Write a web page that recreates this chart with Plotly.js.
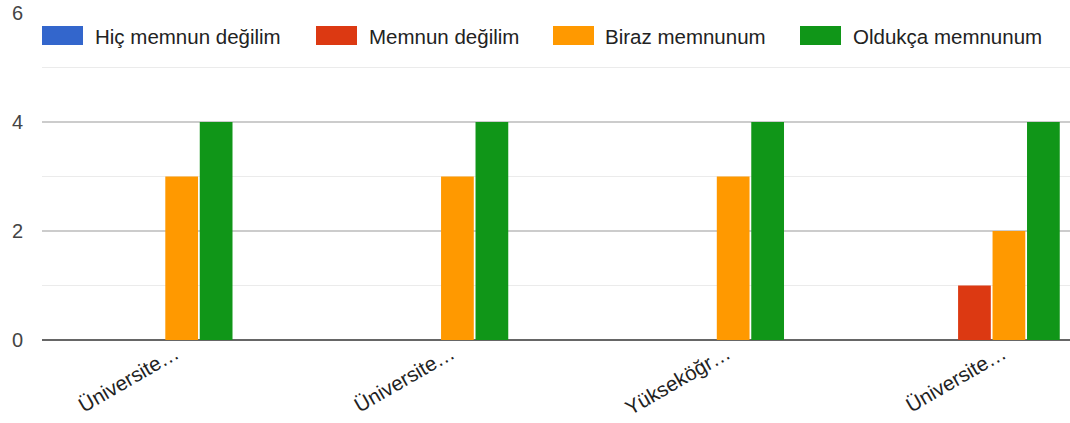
<!DOCTYPE html>
<html>
<head>
<meta charset="utf-8">
<script src="https://cdn.plot.ly/plotly-3.0.1.min.js"></script>
<style>
  html, body { margin: 0; padding: 0; background: #fff; }
  #chart { width: 1070px; height: 423px; }
</style>
</head>
<body>
<div id="chart"></div>
<script>
// ---- Data ----
const categories = ["Üniversite…", "Üniversite…", "Yükseköğr…", "Üniversite…"];
const seriesNames = ["Hiç memnun değilim", "Memnun değilim", "Biraz memnunum", "Oldukça memnunum"];
const hicMemnunDegilim = [0, 0, 0, 0];
const memnunDegilim = [0, 0, 0, 1];
const birazMemnunum = [3, 3, 3, 2];
const oldukcaMemnunum = [4, 4, 4, 4];
const yTickVals = [0, 2, 4, 6];
const yTickText = ["0", "2", "4", "6"];

// ---- Styles ----
const colors = ["#3366cc", "#dc3912", "#ff9900", "#109618"];
const seriesValues = [hicMemnunDegilim, memnunDegilim, birazMemnunum, oldukcaMemnunum];
const xIdx = categories.map((c, i) => i);
const FONT = '"Liberation Sans", Arial, sans-serif';

const W = 1070, H = 423;
const L = 42, R = 0, T = 13, B = 83;
const pw = W - L - R, ph = H - T - B;

const traces = seriesNames.map((name, i) => ({
  type: 'bar',
  name: name,
  x: xIdx,
  y: seriesValues[i],
  marker: { color: colors[i], line: { width: 0 } },
  showlegend: false,
  hoverinfo: 'x+y+name'
}));

// custom legend (large swatches like the original)
const swatchX = [42, 316, 553, 800];
const swatchW = 41;
const textX = [93, 367, 603, 851];
const swTop = 26, swBot = 45, txtY = 36;
const px2x = px => (px - L) / pw;
const px2y = py => (H - B - py) / ph;

const shapes = seriesNames.map((n, i) => ({
  type: 'rect', xref: 'paper', yref: 'paper',
  x0: px2x(swatchX[i]), x1: px2x(swatchX[i] + swatchW),
  y0: px2y(swBot), y1: px2y(swTop),
  fillcolor: colors[i], line: { width: 0 }, layer: 'above'
}));
const annotations = seriesNames.map((n, i) => ({
  xref: 'paper', yref: 'paper',
  x: px2x(textX[i]), y: px2y(txtY),
  xanchor: 'left', yanchor: 'middle',
  text: n, showarrow: false,
  font: { family: FONT, size: 20.5, color: '#222' }
}));

const layout = {
  width: W, height: H,
  margin: { l: L, r: R, t: T, b: B, pad: 0 },
  paper_bgcolor: '#fff', plot_bgcolor: '#fff',
  font: { family: FONT, size: 20, color: '#444' },
  barmode: 'group',
  bargap: 0.5,
  bargroupgap: 0.05,
  showlegend: false,
  xaxis: {
    range: [-0.444, 3.284],
    tickvals: xIdx,
    ticktext: categories,
    tickangle: -30,
    showgrid: false,
    zeroline: false,
    showline: false,
    ticks: '',
    ticklabelshift: 11,
    ticklabelstandoff: -3,
    tickfont: { family: FONT, size: 20.5, color: '#222' },
    fixedrange: true
  },
  yaxis: {
    range: [0, 6],
    tickvals: yTickVals,
    ticktext: yTickText,
    showgrid: true,
    gridcolor: '#cccccc',
    gridwidth: 1.5,
    minor: { dtick: 1, showgrid: true, gridcolor: '#ebebeb', gridwidth: 1.5 },
    zeroline: true,
    zerolinecolor: '#666666',
    zerolinewidth: 2,
    showline: false,
    ticks: '',
    ticklabelstandoff: 18,
    tickfont: { family: FONT, size: 20, color: '#444' },
    fixedrange: true
  },
  shapes: shapes,
  annotations: annotations
};

Plotly.newPlot('chart', traces, layout, { displayModeBar: false, staticPlot: true });
</script>
</body>
</html>
